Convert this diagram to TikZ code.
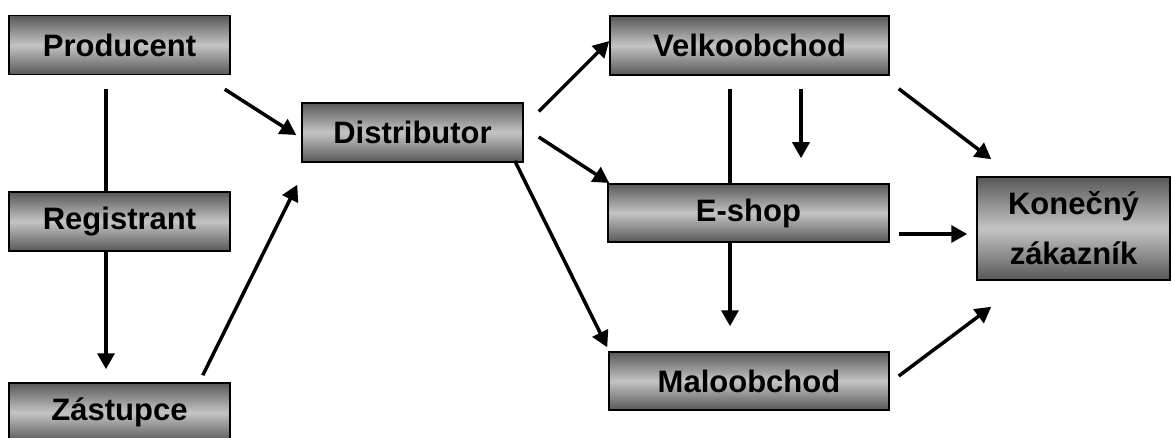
\documentclass[tikz,border=0pt]{standalone}
\usepackage{fontspec}
\setmainfont{Liberation Sans}
\usetikzlibrary{arrows.meta,calc}
\definecolor{boxdark}{RGB}{88,88,88}
\definecolor{boxlight}{RGB}{196,196,196}
\tikzset{
  box/.style={rectangle, draw=black, line width=1.5pt, top color=boxdark, bottom color=boxdark, middle color=boxlight, shading angle=0, font=\fontsize{31}{50}\selectfont\bfseries, inner sep=0pt, align=center},
  conn/.style={line width=3.5pt},
  arr/.style={line width=3.5pt, -{Triangle[width=17pt,length=16pt]}}
}
\begin{document}
\begin{tikzpicture}[x=1pt,y=-1pt]
\useasboundingbox (0,0) rectangle (1172,438);
\node[box, minimum width=221pt, minimum height=59pt] (prod) at (119.5,45) {Producent};
\node[box, minimum width=221pt, minimum height=59pt] (reg) at (119.5,221.5) {Registrant};
\node[box, minimum width=221pt, minimum height=59pt] (zas) at (119.5,412.5) {Zástupce};
\node[box, minimum width=221pt, minimum height=59pt] (dist) at (412.5,132.5) {Distributor};
\node[box, minimum width=279pt, minimum height=59pt] (velk) at (749.5,45.5) {Velkoobchod};
\node[box, minimum width=281pt, minimum height=58pt] (eshop) at (748.5,213) {E-shop};
\node[box, minimum width=280pt, minimum height=58pt] (malo) at (749,381) {Maloobchod};
\node[box, minimum width=193pt, minimum height=103pt] (kon) at (1073.5,228.5) {Konečný\\zákazník};

% Producent -- Registrant
\draw[conn] ([shift={(-13.5,14)}]prod.south) -- ([xshift=-13.5pt]reg.north);
% Registrant -> Zastupce
\draw[arr] ([xshift=-13.5pt]reg.south) -- ([shift={(-13.5,-13)}]zas.north);
% Producent -> Distributor
\draw[arr] ([shift={(-6,14)}]prod.south east) -- ([shift={(-5,2.5)}]dist.west);
% Zastupce -> Distributor
\draw[arr] ([shift={(-28,-7)}]zas.north east) -- ([shift={(-4,22)}]dist.south west);
% Distributor -> Velkoobchod
\draw[arr] ([shift={(15,-21)}]dist.east) -- ([shift={(0,-4.5)}]velk.west);
% Distributor -> E-shop
\draw[arr] ([shift={(15,4.5)}]dist.east) -- ([shift={(2,-30)}]eshop.west);
% Distributor -> Maloobchod
\draw[arr] ([shift={(-9,-2)}]dist.south east) -- ([shift={(-1,-4)}]malo.north west);
% Velkoobchod -- E-shop
\draw[conn] ([shift={(-19.5,13)}]velk.south) -- ([xshift=-18.5pt]eshop.north);
% Velkoobchod -> E-shop
\draw[arr] ([shift={(51.5,13)}]velk.south) -- ([shift={(52.5,-25)}]eshop.north);
% E-shop -> Maloobchod
\draw[arr] ([xshift=-18.5pt]eshop.south) -- ([shift={(-19,-25)}]malo.north);
% Velkoobchod -> Konecny
\draw[arr] ([shift={(9,13)}]velk.south east) -- ([shift={(15,-17)}]kon.north west);
% E-shop -> Konecny
\draw[arr] ([shift={(9.5,21)}]eshop.east) -- ([shift={(-9,5.5)}]kon.west);
% Maloobchod -> Konecny
\draw[arr] ([shift={(9,-5)}]malo.east) -- ([shift={(15,26)}]kon.south west);
\end{tikzpicture}
\end{document}
